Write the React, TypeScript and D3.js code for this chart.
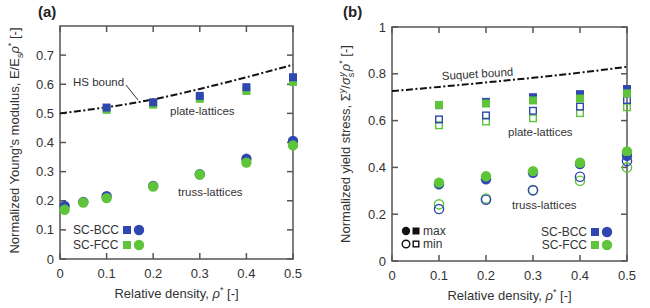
import React from 'react';
import * as d3 from 'd3';

// ---- data ----
const BLUE = '#2f47b0';
const GREEN = '#5ec43a';

// (a) Young's modulus
const hsRho = [0, 0.1, 0.2, 0.3, 0.4, 0.5];
const hsBound = [0.5, 0.521, 0.548, 0.584, 0.624, 0.667];

const plateRhoA = [0.1, 0.2, 0.3, 0.4, 0.5];
const plateBccA = [0.52, 0.538, 0.56, 0.59, 0.624];
const plateFccA = [0.512, 0.53, 0.55, 0.577, 0.608];

const trussRhoA = [0.01, 0.05, 0.1, 0.2, 0.3, 0.4, 0.5];
const trussBccA = [0.182, 0.196, 0.216, 0.251, 0.291, 0.344, 0.405];
const trussFccA = [0.169, 0.194, 0.209, 0.249, 0.29, 0.331, 0.39];

// (b) yield stress
const suqRho = [0, 0.1, 0.2, 0.3, 0.4, 0.5];
const suqBound = [0.726, 0.744, 0.763, 0.783, 0.805, 0.83];

const rhoB = [0.1, 0.2, 0.3, 0.4, 0.5];
const plateBccMax = [0.666, 0.68, 0.7, 0.713, 0.735];
const plateFccMax = [0.667, 0.673, 0.686, 0.694, 0.716];
const plateBccMin = [0.605, 0.622, 0.642, 0.66, 0.688];
const plateFccMin = [0.58, 0.596, 0.61, 0.632, 0.657];

const trussBccMax = [0.328, 0.349, 0.377, 0.414, 0.45];
const trussFccMax = [0.335, 0.362, 0.384, 0.42, 0.468];
const trussBccMin = [0.222, 0.262, 0.302, 0.36, 0.427];
const trussFccMin = [0.242, 0.267, 0.303, 0.343, 0.4];

const xTicks = [0, 0.1, 0.2, 0.3, 0.4, 0.5];
const yTicksA = [0, 0.1, 0.2, 0.3, 0.4, 0.5, 0.6, 0.7];
const yTicksB = [0, 0.2, 0.4, 0.6, 0.8, 1];

const FONT = 'Liberation Sans, Arial, sans-serif';
const TXT = '#333';
const AXIS = '#555';

function Frame({ x, y, yTicks, yFmt, yMaxLabel }: any) {
  const [x0, x1] = x.range();
  const [y0, y1] = y.range();
  const tl = 6;
  return (
    <g>
      <rect x={x0} y={y1} width={x1 - x0} height={y0 - y1} fill="none" stroke={AXIS} strokeWidth={1.5} />
      {xTicks.map(t => (
        <g key={'x' + t}>
          <line x1={x(t)} x2={x(t)} y1={y0} y2={y0 - tl} stroke={AXIS} strokeWidth={1.5} />
          <line x1={x(t)} x2={x(t)} y1={y1} y2={y1 + tl} stroke={AXIS} strokeWidth={1.5} />
          <text x={x(t)} y={y0 + 19} textAnchor="middle" fontSize={13} fill={TXT} fontFamily={FONT}>{d3.format('~g')(t)}</text>
        </g>
      ))}
      {yTicks.map((t: number) => (
        <g key={'y' + t}>
          <line x1={x0} x2={x0 + tl} y1={y(t)} y2={y(t)} stroke={AXIS} strokeWidth={1.5} />
          <line x1={x1} x2={x1 - tl} y1={y(t)} y2={y(t)} stroke={AXIS} strokeWidth={1.5} />
          {(yMaxLabel || t < y.domain()[1]) && (
            <text x={x0 - 6} y={y(t) + 4.5} textAnchor="end" fontSize={13} fill={TXT} fontFamily={FONT}>{yFmt(t)}</text>
          )}
        </g>
      ))}
      <text x={(x0 + x1) / 2} y={y0 + 39} textAnchor="middle" fontSize={13} fill={TXT} fontFamily={FONT}>
        Relative density, <tspan fontStyle="italic">ρ</tspan><tspan dy={-5} fontSize={9}>*</tspan><tspan dy={5}> [-]</tspan>
      </text>
    </g>
  );
}

function Sq({ cx, cy, color, open, s = 8 }: any) {
  return open
    ? <rect x={cx - s / 2 + 0.7} y={cy - s / 2 + 0.7} width={s - 1.4} height={s - 1.4} fill="none" stroke={color} strokeWidth={1.4} />
    : <rect x={cx - s / 2} y={cy - s / 2} width={s} height={s} fill={color} />;
}

function Circ({ cx, cy, color, open, r = 5.2 }: any) {
  return open
    ? <circle cx={cx} cy={cy} r={r - 0.6} fill="none" stroke={color} strokeWidth={1.4} />
    : <circle cx={cx} cy={cy} r={r} fill={color} />;
}

export default function App() {
  const xa = d3.scaleLinear().domain([0, 0.5]).range([60, 293]);
  const ya = d3.scaleLinear().domain([0, 0.8]).range([259, 26]);
  const xb = d3.scaleLinear().domain([0, 0.5]).range([392, 627]);
  const yb = d3.scaleLinear().domain([0, 1]).range([261, 27]);

  const hsLine = d3.line<number>().x((_, i) => xa(hsRho[i])).y(d => ya(d)).curve(d3.curveNatural);
  const suqLine = d3.line<number>().x((_, i) => xb(suqRho[i])).y(d => yb(d)).curve(d3.curveNatural);
  const dash = '7,2.5,2,2.5';

  return (
    <svg width={650} height={308} style={{ position: 'absolute', left: 0, top: 0, background: '#fff' }}>
      {/* ---------- panel (a) ---------- */}
      <text x={38} y={17} fontSize={15} fontWeight="bold" fill="#222" fontFamily={FONT}>(a)</text>
      <Frame x={xa} y={ya} yTicks={yTicksA} yFmt={d3.format('~g')} yMaxLabel={false} />
      <text transform={`translate(19,${(259 + 26) / 2 - 2}) rotate(-90)`} textAnchor="middle" fontSize={13} fill={TXT} fontFamily={FONT}>
        Normalized Young's modulus, E/E<tspan dy={4} fontSize={9}>s</tspan><tspan dy={-4} fontStyle="italic">ρ</tspan><tspan dy={-5} fontSize={9}>*</tspan><tspan dy={5}> [-]</tspan>
      </text>
      <path d={hsLine(hsBound) || ''} fill="none" stroke="#111" strokeWidth={2} strokeDasharray={dash} />
      {plateRhoA.map((r, i) => <Sq key={'pf' + i} cx={xa(r)} cy={ya(plateFccA[i])} color={GREEN} />)}
      {plateRhoA.map((r, i) => <Sq key={'pb' + i} cx={xa(r)} cy={ya(plateBccA[i])} color={BLUE} />)}
      {trussRhoA.map((r, i) => <Circ key={'tb' + i} cx={xa(r)} cy={ya(trussBccA[i])} color={BLUE} />)}
      {trussRhoA.map((r, i) => <Circ key={'tf' + i} cx={xa(r)} cy={ya(trussFccA[i])} color={GREEN} />)}
      <text x={73} y={86} fontSize={11.5} fill={TXT} fontFamily={FONT}>HS bound</text>
      <line x1={126} y1={85} x2={138} y2={100} stroke="#333" strokeWidth={1} />
      <text x={170} y={115} fontSize={11.5} fill={TXT} fontFamily={FONT}>plate-lattices</text>
      <text x={178} y={196} fontSize={11.5} fill={TXT} fontFamily={FONT}>truss-lattices</text>
      <text x={73} y={234} fontSize={12} fill={TXT} fontFamily={FONT}>SC-BCC</text>
      <Sq cx={127} cy={230} color={BLUE} />
      <Circ cx={139} cy={230} color={BLUE} />
      <text x={73} y={249} fontSize={12} fill={TXT} fontFamily={FONT}>SC-FCC</text>
      <Sq cx={127} cy={245} color={GREEN} />
      <Circ cx={139} cy={245} color={GREEN} />

      {/* ---------- panel (b) ---------- */}
      <text x={343} y={17} fontSize={15} fontWeight="bold" fill="#222" fontFamily={FONT}>(b)</text>
      <Frame x={xb} y={yb} yTicks={yTicksB} yFmt={d3.format('~g')} yMaxLabel={true} />
      <text transform={`translate(350,${(261 + 27) / 2}) rotate(-90)`} textAnchor="middle" fontSize={13} fill={TXT} fontFamily={FONT}>
        Normalized yield stress, Σ<tspan dy={-5} fontSize={9} fontStyle="italic">y</tspan><tspan dy={5}>/</tspan><tspan fontStyle="italic">σ</tspan><tspan dy={4} fontSize={9}>s</tspan><tspan dy={-9} dx={-4} fontSize={9} fontStyle="italic">y</tspan><tspan dy={5} dx={1} fontStyle="italic">ρ</tspan><tspan dy={-5} fontSize={9}>*</tspan><tspan dy={5}> [-]</tspan>
      </text>
      <path d={suqLine(suqBound) || ''} fill="none" stroke="#111" strokeWidth={2} strokeDasharray={dash} />
      {rhoB.map((r, i) => <Sq key={'bfm' + i} cx={xb(r)} cy={yb(plateFccMin[i])} color={GREEN} open />)}
      {rhoB.map((r, i) => <Sq key={'bbm' + i} cx={xb(r)} cy={yb(plateBccMin[i])} color={BLUE} open />)}
      {rhoB.map((r, i) => <Sq key={'bbx' + i} cx={xb(r)} cy={yb(plateBccMax[i])} color={BLUE} />)}
      {rhoB.map((r, i) => <Sq key={'bfx' + i} cx={xb(r)} cy={yb(plateFccMax[i])} color={GREEN} />)}
      {rhoB.map((r, i) => <Circ key={'cbx' + i} cx={xb(r)} cy={yb(trussBccMax[i])} color={BLUE} />)}
      {rhoB.map((r, i) => <Circ key={'cfx' + i} cx={xb(r)} cy={yb(trussFccMax[i])} color={GREEN} />)}
      {rhoB.map((r, i) => <Circ key={'cfm' + i} cx={xb(r)} cy={yb(trussFccMin[i])} color={GREEN} open />)}
      {rhoB.map((r, i) => <Circ key={'cbm' + i} cx={xb(r)} cy={yb(trussBccMin[i])} color={BLUE} open />)}
      <text x={442} y={80} fontSize={11.5} fill={TXT} fontFamily={FONT} transform="rotate(-3.5,442,80)">Suquet bound</text>
      <text x={508} y={136} fontSize={11.5} fill={TXT} fontFamily={FONT}>plate-lattices</text>
      <text x={512} y={209} fontSize={11.5} fill={TXT} fontFamily={FONT}>truss-lattices</text>
      <Circ cx={406} cy={231} color="#111" r={4.2} />
      <Sq cx={416} cy={231} color="#111" s={7} />
      <text x={423} y={235} fontSize={12} fill={TXT} fontFamily={FONT}>max</text>
      <Circ cx={406} cy={244} color="#111" open r={4.4} />
      <Sq cx={416} cy={244} color="#111" open s={7} />
      <text x={423} y={248} fontSize={12} fill={TXT} fontFamily={FONT}>min</text>
      <text x={587} y={236} textAnchor="end" fontSize={12} fill={TXT} fontFamily={FONT}>SC-BCC</text>
      <Sq cx={595} cy={232} color={BLUE} />
      <Circ cx={607} cy={232} color={BLUE} />
      <text x={587} y={249} textAnchor="end" fontSize={12} fill={TXT} fontFamily={FONT}>SC-FCC</text>
      <Sq cx={595} cy={245} color={GREEN} />
      <Circ cx={607} cy={245} color={GREEN} />
    </svg>
  );
}
